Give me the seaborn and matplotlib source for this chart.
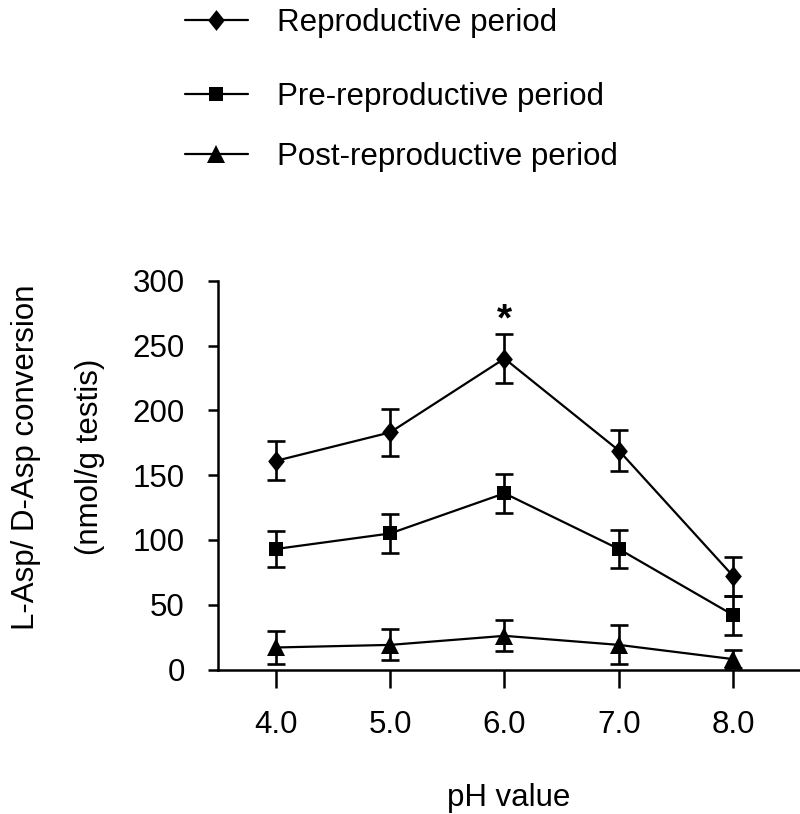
import pandas as pd
import seaborn as sns
import matplotlib.pyplot as plt


ph = [4.0, 5.0, 6.0, 7.0, 8.0]
periods = ["Reproductive period", "Pre-reproductive period", "Post-reproductive period"]

repro_mean = [161, 183, 240, 169, 72]
repro_sem = [15, 18, 19, 16, 15]
pre_mean = [93, 105, 136, 93, 42]
pre_sem = [14, 15, 15, 15, 15]
post_mean = [17, 19, 26, 19, 8]
post_sem = [13, 12, 12, 15, 7]

star_ph = 6.0
star_value = 262


def make_frame():
    rows = []
    for name, means, sems in zip(periods,
                                 [repro_mean, pre_mean, post_mean],
                                 [repro_sem, pre_sem, post_sem]):
        for x, m, s in zip(ph, means, sems):
            rows.append({"pH": x, "value": m, "sem": s, "period": name})
    return pd.DataFrame(rows)


def conversion_plot(df: pd.DataFrame) -> None:
    sns.set_style("ticks")
    plt.rcParams["font.family"] = ["Liberation Sans", "DejaVu Sans"]
    plt.rcParams["text.color"] = "black"
    plt.rcParams["axes.labelcolor"] = "black"
    plt.rcParams["xtick.color"] = "black"
    plt.rcParams["ytick.color"] = "black"
    fs = 22.5

    fig = plt.figure(figsize=(8, 8.14), dpi=100)
    ax = fig.add_axes([0.2725, 0.1775, 0.7275, 0.4775])

    diamond = [(0, 1), (0.8, 0), (0, -1), (-0.8, 0), (0, 1)]
    styles = {
        "Reproductive period": (diamond, 15),
        "Pre-reproductive period": ("s", 10),
        "Post-reproductive period": ("^", 12.5),
    }

    handles = []
    for name in periods:
        sub = df[df["period"] == name]
        marker, ms = styles[name]
        ax.errorbar(sub["pH"], sub["value"], yerr=sub["sem"], fmt="none",
                    ecolor="black", elinewidth=1.9, capsize=6.5,
                    capthick=1.9, zorder=2)
        sns.lineplot(data=sub, x="pH", y="value", marker=marker,
                     markersize=ms, color="black", linewidth=1.6,
                     markeredgewidth=0, label=name, ax=ax, zorder=3)
        handles.append(ax.get_lines()[-1])

    ax.get_legend().remove()

    ax.text(star_ph, star_value, "*", ha="center", va="baseline",
            fontsize=28, fontweight="bold", color="black")

    ax.set_xlim(3.496, 8.583)
    ax.set_ylim(0, 300)
    ax.set_xticks(ph)
    ax.set_xticklabels([f"{v:.1f}" for v in ph])
    ax.set_yticks(range(0, 301, 50))

    for side in ["top", "right"]:
        ax.spines[side].set_visible(False)
    for side in ["left", "bottom"]:
        ax.spines[side].set_linewidth(1.8)
        ax.spines[side].set_color("black")

    ax.tick_params(axis="y", length=7, width=1.8, pad=17,
                   labelsize=fs, colors="black")
    ax.tick_params(axis="x", length=13, width=1.8, pad=16,
                   labelsize=fs, colors="black")

    ax.set_xlabel("pH value", fontsize=fs, labelpad=31, color="black")
    ax.set_ylabel("L-Asp/ D-Asp conversion\n(nmol/g testis)",
                  fontsize=fs, linespacing=2.5, color="black")
    ax.yaxis.set_label_coords(-0.194, 0.546)

    legend_y = [1 - 23 / 814, 1 - 97 / 814, 1 - 157 / 814]
    for h, name, y in zip(handles, periods, legend_y):
        leg = fig.legend([h], [name], loc="center left",
                         bbox_to_anchor=(185 / 800, y), frameon=False,
                         fontsize=fs, borderpad=0, borderaxespad=0,
                         handlelength=2.0, handletextpad=0.95)
        for t in leg.get_texts():
            t.set_color("black")

    fig.savefig("out.png", dpi=100)


if __name__ == "__main__":
    conversion_plot(make_frame())
